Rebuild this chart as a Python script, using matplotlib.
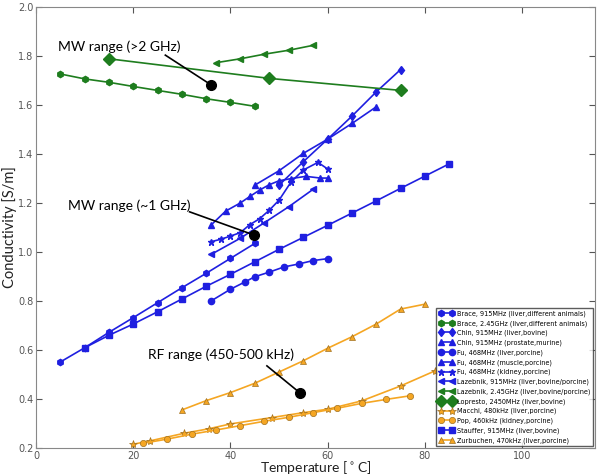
import matplotlib
matplotlib.use('Agg')
import matplotlib.pyplot as plt

# temperature [C] / conductivity [S/m]
brace915_t = [5, 10, 15, 20, 25, 30, 35, 40, 45]
brace915_s = [0.551, 0.609, 0.672, 0.732, 0.793, 0.854, 0.913, 0.974, 1.035]

brace245_t = [5, 10, 15, 20, 25, 30, 35, 40, 45]
brace245_s = [1.727, 1.707, 1.693, 1.676, 1.660, 1.644, 1.626, 1.611, 1.595]

chin_liver_t = [50, 55, 60, 65, 70, 75]
chin_liver_s = [1.273, 1.369, 1.461, 1.555, 1.654, 1.745]

chin_prost_t = [45, 50, 55, 60, 65, 70]
chin_prost_s = [1.273, 1.332, 1.403, 1.461, 1.525, 1.593]

fu_liver_t = [36, 40, 43, 45, 48, 51, 54, 57, 60]
fu_liver_s = [0.800, 0.848, 0.878, 0.899, 0.918, 0.939, 0.951, 0.965, 0.973]

fu_muscle_t = [36, 39, 42, 44, 46, 48, 50, 52.5, 55.5, 58.5, 60]
fu_muscle_s = [1.11, 1.167, 1.20, 1.227, 1.253, 1.275, 1.291, 1.300, 1.309, 1.302, 1.302]

fu_kidney_t = [36, 38, 40, 42, 44, 46, 48, 50, 52.5, 55, 58, 60]
fu_kidney_s = [1.042, 1.052, 1.065, 1.079, 1.112, 1.136, 1.171, 1.212, 1.287, 1.335, 1.366, 1.339]

laz915_t = [36, 42, 47, 52, 57]
laz915_s = [0.99, 1.056, 1.12, 1.185, 1.256]

laz245_t = [37, 42, 47, 52, 57]
laz245_s = [1.773, 1.789, 1.808, 1.824, 1.844]

lopresto_t = [15, 48, 75]
lopresto_s = [1.789, 1.709, 1.660]

macchi_t = [20, 23.5, 30.5, 35.5, 40, 48.5, 55, 60, 67, 75, 82]
macchi_s = [0.215, 0.229, 0.260, 0.278, 0.298, 0.324, 0.344, 0.358, 0.392, 0.453, 0.514]

pop_t = [22, 27, 32, 37, 42, 47, 52, 57, 62, 67, 72, 77]
pop_s = [0.219, 0.236, 0.256, 0.273, 0.291, 0.309, 0.325, 0.344, 0.362, 0.382, 0.398, 0.413]

stauffer_t = [10, 15, 20, 25, 30, 35, 40, 45, 50, 55, 60, 65, 70, 75, 80, 85]
stauffer_s = [0.609, 0.66, 0.706, 0.756, 0.808, 0.86, 0.909, 0.96, 1.011, 1.06, 1.109, 1.159, 1.209, 1.26, 1.31, 1.36]

zurb_t = [30, 35, 40, 45, 50, 55, 60, 65, 70, 75, 80]
zurb_s = [0.355, 0.393, 0.426, 0.464, 0.51, 0.556, 0.607, 0.654, 0.706, 0.767, 0.787]

# annotation dots and label texts
notes = ['MW range (>2 GHz)', 'MW range (~1 GHz)', 'RF range (450-500 kHz)']
note_dot_t = [35.9, 44.9, 54.4]
note_dot_s = [1.684, 1.069, 0.423]
note_txt_t = [4.5, 6.5, 23.0]
note_txt_s = [1.84, 1.19, 0.58]
note_line_t = [26.6, 31.6, 47.5]
note_line_s = [1.804, 1.164, 0.535]

blue = '#1f1fe0'
green = '#1e7d1e'
orange = '#f5a623'
oedge = '#a07020'

fig = plt.figure(figsize=(6.01, 4.76), dpi=100)
ax = fig.add_axes([0.06, 0.059, 0.93, 0.926])

ms = 4.5
ax.plot(brace915_t, brace915_s, 'h-', color=blue, ms=ms, mec=blue, lw=1.2, label='Brace, 915MHz (liver,different animals)')
ax.plot(brace245_t, brace245_s, 'h-', color=green, ms=ms, mec=green, lw=1.2, label='Brace, 2.45GHz (liver,different animals)')
ax.plot(chin_liver_t, chin_liver_s, 'd-', color=blue, ms=ms, mec=blue, lw=1.2, label='Chin, 915MHz (liver,bovine)')
ax.plot(chin_prost_t, chin_prost_s, '^-', color=blue, ms=ms, mec=blue, lw=1.2, label='Chin, 915MHz (prostate,murine)')
ax.plot(fu_liver_t, fu_liver_s, 'o-', color=blue, ms=ms, mec=blue, lw=1.2, label='Fu, 468MHz (liver,porcine)')
ax.plot(fu_muscle_t, fu_muscle_s, '^-', color=blue, ms=ms, mec=blue, lw=1.2, label='Fu, 468MHz (muscle,porcine)')
ax.plot(fu_kidney_t, fu_kidney_s, '*-', color=blue, ms=ms, mec=blue, lw=1.2, label='Fu, 468MHz (kidney,porcine)')
ax.plot(laz915_t, laz915_s, '<-', color=blue, ms=ms, mec=blue, lw=1.2, label='Lazebnik, 915MHz (liver,bovine/porcine)')
ax.plot(laz245_t, laz245_s, '<-', color=green, ms=ms, mec=green, lw=1.2, label='Lazebnik, 2.45GHz (liver,bovine/porcine)')
ax.plot(lopresto_t, lopresto_s, 'D-', color=green, ms=6, mec=green, lw=1.2, label='Lopresto, 2450MHz (liver,bovine)')
ax.plot(macchi_t, macchi_s, '*-', color=orange, ms=6, mec=oedge, mew=0.5, lw=1.2, label='Macchi, 480kHz (liver,porcine)')
ax.plot(pop_t, pop_s, 'o-', color=orange, ms=ms, mec=oedge, mew=0.5, lw=1.2, label='Pop, 460kHz (kidney,porcine)')
ax.plot(stauffer_t, stauffer_s, 's-', color=blue, ms=ms, mec=blue, lw=1.2, label='Stauffer, 915MHz (liver,bovine)')
ax.plot(zurb_t, zurb_s, '^-', color=orange, ms=ms, mec=oedge, mew=0.5, lw=1.2, label='Zurbuchen, 470kHz (liver,porcine)')

ax.set_xlim(0, 115)
ax.set_ylim(0.2, 2.0)
ax.set_xticks([0, 20, 40, 60, 80, 100])
ax.set_yticks([0.2, 0.4, 0.6, 0.8, 1.0, 1.2, 1.4, 1.6, 1.8, 2.0])
ax.tick_params(direction='in', top=True, right=True, labelsize=7, colors='#555555', length=4, pad=2)
for s in ax.spines.values():
    s.set_color('#888888')

ax.set_xlabel('Temperature [$^\\circ$C]', fontsize=10, family='Lato', color='#222222')
ax.set_ylabel('Conductivity [S/m]', fontsize=10.5, family='Lato', color='#222222')
ax.xaxis.set_label_coords(0.5, -0.026)
ax.yaxis.set_label_coords(-0.034, 0.5)

# annotations
for i in range(len(notes)):
    ax.text(note_txt_t[i], note_txt_s[i], notes[i], fontsize=10, family='Lato', va='center')
    ax.plot([note_line_t[i], note_dot_t[i]], [note_line_s[i], note_dot_s[i]], 'k-', lw=1.2)
    ax.plot([note_dot_t[i]], [note_dot_s[i]], 'ko', ms=7)

leg = ax.legend(loc='lower right', prop={'size': 4.7}, numpoints=2, fancybox=False, borderpad=0.4,
                labelspacing=0.5, handlelength=2.3, handletextpad=0.5, borderaxespad=0.25)
leg.get_frame().set_edgecolor('#333333')

plt.savefig('out.png', dpi=100)
